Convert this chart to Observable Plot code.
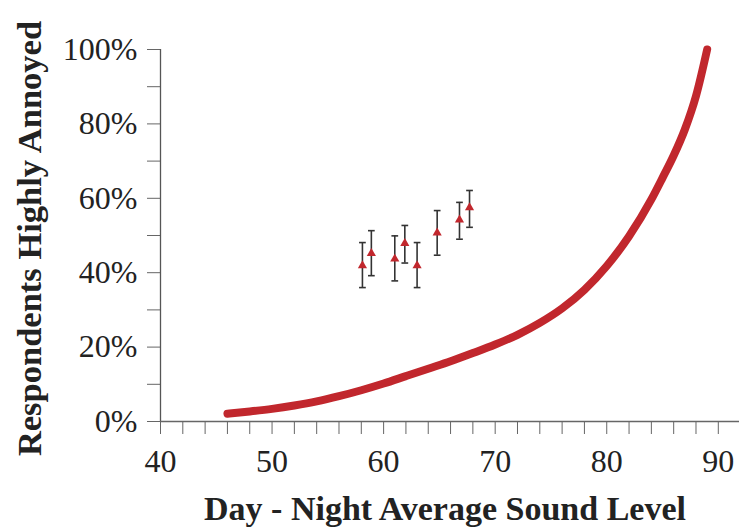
<!DOCTYPE html>
<html>
<head>
<meta charset="utf-8">
<script src="https://cdn.jsdelivr.net/npm/d3@7"></script>
<script src="https://cdn.jsdelivr.net/npm/@observablehq/plot@0.6"></script>
<style>
  html, body { margin: 0; padding: 0; background: #fff; }
  #chart svg { display: block; }
</style>
</head>
<body>
<div id="chart"></div>
<script>
// Curve: dose-response (Day-Night Average Sound Level vs % highly annoyed)
const curveLevel = [46, 48, 50, 52, 54, 56, 58, 60, 62, 64, 66, 68, 70, 72, 74, 76, 78, 80, 82, 84, 85, 86, 87, 88, 89];
const curvePct   = [2.1, 2.7, 3.4, 4.3, 5.4, 6.8, 8.4, 10.2, 12.2, 14.2, 16.2, 18.4, 20.7, 23.3, 26.5, 30.4, 35.4, 41.8, 49.8, 59.7, 65.5, 71.5, 78.5, 87.5, 100];

// Survey observations with error bars
const obsLevel = [58.1, 58.9, 61.0, 61.9, 63.0, 64.8, 66.8, 67.7];
const obsPct   = [41.9, 45.2, 43.7, 47.9, 41.9, 50.7, 54.2, 57.5];
const obsLow   = [36.0, 39.2, 37.8, 42.6, 36.0, 44.7, 49.0, 52.2];
const obsHigh  = [48.1, 51.3, 49.9, 52.7, 48.1, 56.7, 58.9, 62.1];

// Ticks
const xTicks = [40, 42, 44, 46, 48, 50, 52, 54, 56, 58, 60, 62, 64, 66, 68, 70, 72, 74, 76, 78, 80, 82, 84, 86, 88, 90];
const xLabels = [40, 50, 60, 70, 80, 90];
const yTicks = [0, 10, 20, 30, 40, 50, 60, 70, 80, 90, 100];
const yLabels = [0, 20, 40, 60, 80, 100];

const xTitle = "Day - Night Average Sound Level";
const yTitle = "Respondents Highly Annoyed";

const curve = curveLevel.map((x, i) => ({x, y: curvePct[i]}));
const obs = obsLevel.map((x, i) => ({x, y: obsPct[i], lo: obsLow[i], hi: obsHigh[i]}));

const red = "#c1272d";
const capSymbol = { draw(ctx, size) { const r = Math.sqrt(size) / 2; ctx.moveTo(-r, 0); ctx.lineTo(r, 0); } };

const chart = Plot.plot({
  width: 739,
  height: 527,
  marginLeft: 160,
  marginRight: 0,
  marginTop: 49,
  marginBottom: 106,
  style: { fontFamily: "'Liberation Serif', serif", fontSize: "32px", color: "#222", background: "#fff" },
  x: { domain: [40, 91.9] },
  y: { domain: [0, 100] },
  marks: [
    Plot.axisX({ ticks: xTicks, tickSize: 13, tickPadding: 15, stroke: "#666", tickFormat: d => xLabels.includes(d) ? String(d) : "", label: null }),
    Plot.axisY({ ticks: yTicks, tickSize: 13, tickPadding: 10, stroke: "#666", tickFormat: d => yLabels.includes(d) ? d + "%" : "", label: null }),
    Plot.ruleX([40], { stroke: "#555", strokeWidth: 1.3 }),
    Plot.ruleY([0], { stroke: "#666", strokeWidth: 1.3 }),
    Plot.line(curve, { x: "x", y: "y", stroke: red, strokeWidth: 8, curve: "monotone-x" }),
    Plot.ruleX(obs, { x: "x", y1: "lo", y2: "hi", stroke: "#333", strokeWidth: 1.6 }),
    Plot.dot(obs, { x: "x", y: "lo", symbol: capSymbol, r: 3.8, stroke: "#333", strokeWidth: 1.6 }),
    Plot.dot(obs, { x: "x", y: "hi", symbol: capSymbol, r: 3.8, stroke: "#333", strokeWidth: 1.6 }),
    Plot.dot(obs, { x: "x", y: "y", symbol: "triangle", r: 3.4, fill: red, stroke: null }),
    Plot.text([xTitle], { frameAnchor: "bottom", dy: 98, dx: -5, fontSize: 34, fontWeight: "bold", fill: "#222" }),
    Plot.text([yTitle], { frameAnchor: "left", textAnchor: "middle", lineAnchor: "middle", dx: -131, dy: 3, rotate: -90, fontSize: 34.5, fontWeight: "bold", fill: "#222" })
  ]
});
document.getElementById("chart").appendChild(chart);
</script>
</body>
</html>
